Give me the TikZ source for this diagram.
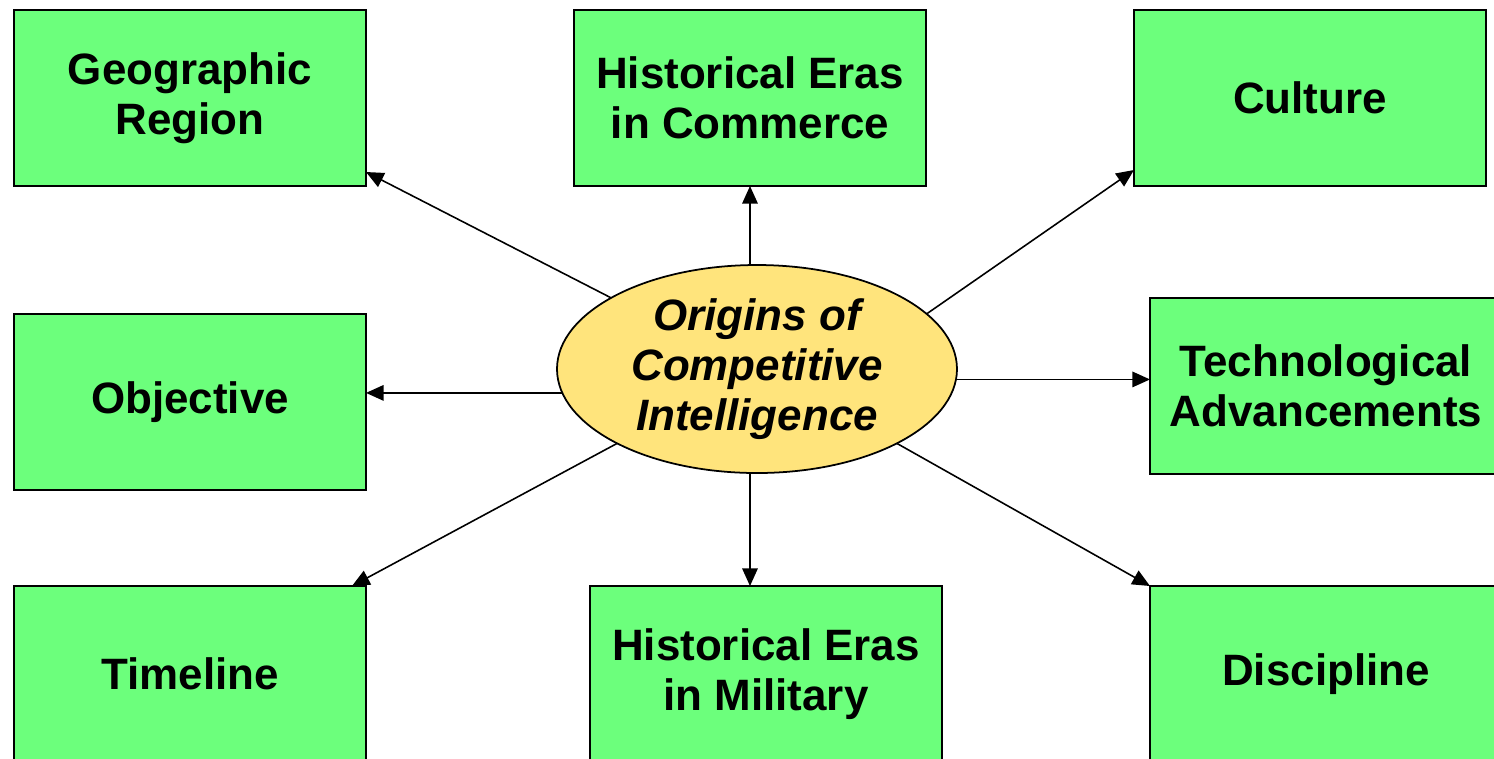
\documentclass[tikz,border=0pt]{standalone}
\usepackage{fontspec}
\setmainfont{Liberation Sans}
\usepackage{tikz}
\usetikzlibrary{shapes.geometric, arrows.meta, positioning, calc}

\definecolor{boxgreen}{RGB}{108,255,124}
\definecolor{coreyellow}{RGB}{255,228,124}

\begin{document}
\begin{tikzpicture}[
    box/.style={rectangle, draw, line width=0.6pt, fill=boxgreen, minimum width=3.52cm, minimum height=1.76cm,
        inner sep=0pt, outer sep=0pt, align=center, font=\fontsize{12.5}{14.2}\selectfont\bfseries},
    core/.style={ellipse, draw, line width=0.5pt, fill=coreyellow, minimum width=4cm, minimum height=2.08cm,
        inner sep=0pt, outer sep=0pt, align=center, font=\fontsize{12.5}{14.2}\selectfont\bfseries\itshape},
    arrow/.style={-{Triangle[length=5pt, width=4.4pt]}, line width=0.45pt}
]
\useasboundingbox (0,0) rectangle (14.94,-7.58);
% top row
\node[box] (geo) at (1.9,-0.98) {Geographic\\Region};
\node[box, right=2.08cm of geo] (commerce) {Historical Eras\\in Commerce};
\node[box, right=2.08cm of commerce] (culture) {Culture};
% left column
\node[box, below=1.28cm of geo] (objective) {Objective};
\node[box, below=0.96cm of objective] (timeline) {Timeline};
% bottom row
\node[box, right=2.24cm of timeline] (military) {Historical Eras\\in Military};
\node[box, right=2.08cm of military] (discipline) {Discipline};
\node[box, above=1.12cm of discipline] (tech) {Technological\\Advancements};
% centre
\node[core] (origins) at (7.57,-3.69) {Origins of\\Competitive\\Intelligence};

\draw[arrow] (commerce.south |- origins.north) -- (commerce.south);
\draw[arrow] (origins.154) -- ($(geo.south east)+(0,0.14)$);
\draw[arrow] (origins.18) -- ($(culture.south west)+(0,0.16)$);
\draw[arrow] (origins.187) -- (origins.187 -| objective.east);
\draw[arrow] (origins.-3) -- (origins.-3 -| tech.west);
\draw[arrow] (origins.208) -- ($(timeline.north east)+(-0.14,0)$);
\draw[arrow] (commerce.south |- origins.south) -- (commerce.south |- military.north);
\draw[arrow] (origins.-28) -- (discipline.north west);
\end{tikzpicture}
\end{document}
